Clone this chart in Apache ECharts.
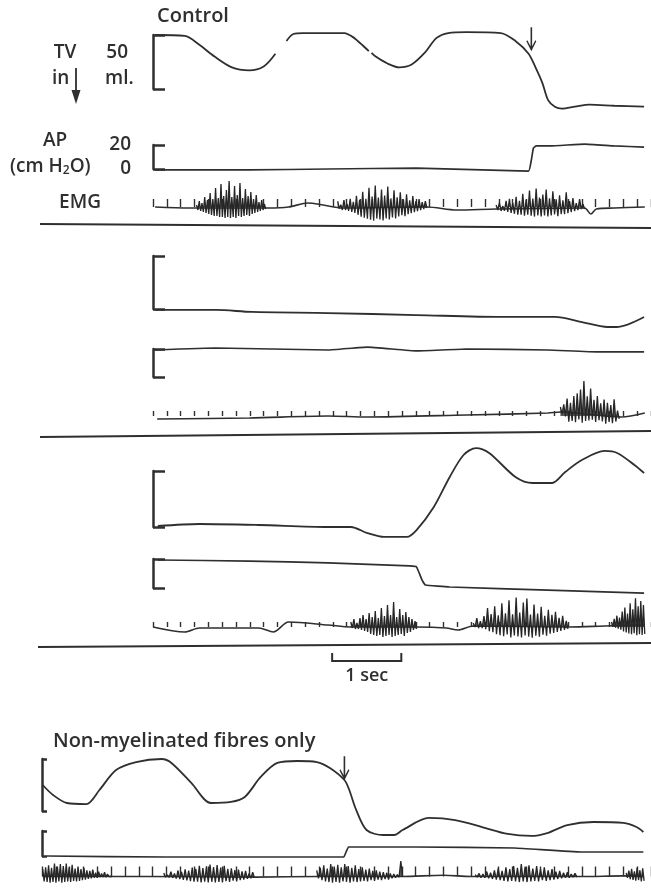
<!DOCTYPE html>
<html>
<head>
<meta charset="UTF-8">
<title>TV, AP and EMG traces</title>
<script src="https://cdn.jsdelivr.net/npm/echarts@6/dist/echarts.min.js"></script>
<style>
html, body { margin: 0; background: #fff; }
#main { width: 651px; height: 895px; }
</style>
</head>
<body>
<div id="main"></div>
<script>
var INK = '#2f2f2f';
var FONT = '"Open Sans", sans-serif';

// time in s from the start of each record
// TV in ml (0 = foot of the 50 ml bracket), '-' = pen lifted
var tv1 = [[0.03,50.0],[0.46,49.1],[0.67,40.9],[0.89,30.0],[1.14,20.0],[1.39,17.3],[1.60,20.9],[1.77,32.7],[1.85,'-'],
  [1.93,44.5],[2.03,50.9],[2.17,51.8],[2.77,51.8],[2.88,48.5],[2.96,44.5],[3.03,40.5],[3.08,37.5],[3.12,35.0],[3.14,'-'],
  [3.16,33.5],[3.22,30.0],[3.39,23.6],
  [3.56,20.0],[3.74,22.7],[3.93,33.6],[4.10,47.3],[4.27,51.8],[4.53,52.7],[5.03,51.8],[5.24,44.5],[5.43,32.7],
  [5.53,20.0],[5.63,5.5],[5.71,-10.0],[5.81,-16.4],[5.91,-18.2],[6.10,-16.4],[6.31,-14.5],[6.67,-15.5],[7.10,-16.4]];
var tv2 = [[0.03,-0.9],[0.91,-0.9],[1.43,-2.8],[2.53,-3.8],[3.81,-5.7],[5.06,-7.5],[5.81,-7.5],[6.20,-12.3],
  [6.57,-17.0],[6.70,-17.0],[7.10,-7.5]];
var tv3 = [[0.07,0.9],[0.67,2.7],[1.53,1.8],[2.53,0],[2.86,0],[3.10,-5.4],[3.34,-8.9],[3.67,-8.9],[3.81,-2.7],
  [4.06,17.9],[4.29,44.7],[4.49,64.3],[4.67,70.5],[4.86,66.1],[5.24,44.7],[5.49,39.3],[5.77,39.3],[5.96,49.1],
  [6.20,59.8],[6.53,67.9],[6.71,66.1],[6.96,55.4],[7.10,48.2]];
var tv4 = [[0.01,25.0],[0.16,15.4],[0.36,7.7],[0.64,6.7],[0.83,20.2],[1.07,39.4],[1.36,47.1],[1.73,50.0],
  [1.87,46.2],[2.16,26.9],[2.44,7.7],[2.73,8.7],[2.93,13.5],[3.16,32.7],[3.40,46.2],[3.69,48.1],[3.97,47.1],
  [4.16,41.4],[4.37,29.8],[4.44,20.2],[4.54,1.0],[4.69,-18.3],[4.93,-23.1],[5.09,-23.1],[5.21,-18.3],
  [5.59,-6.7],[5.97,-8.7],[6.36,-15.4],[6.73,-22.1],[7.07,-24.0],[7.30,-21.2],[7.59,-13.5],[7.97,-10.6],
  [8.40,-11.5],[8.59,-15.4],[8.69,-20.2]];

// airway pressure, cm H2O
var ap1 = [[0.03,-0.8],[1.39,-0.8],[2.53,0],[3.81,0.8],[5.43,-1.7],[5.47,7.5],[5.50,17.5],[5.54,19.2],
  [5.74,19.2],[6.24,20.8],[6.67,19.2],[7.10,18.3]];
var ap2 = [[0.03,19.3],[0.91,20.7],[2.53,19.3],[3.10,21.4],[3.81,18.6],[4.53,20.0],[5.71,19.3],[6.43,17.9],[7.10,17.9]];
var ap3 = [[0.07,19.3],[1.39,18.6],[2.53,17.3],[3.71,15.2],[3.81,14.5],[3.89,5.5],[3.94,2.1],[4.29,0.7],
  [5.71,-1.4],[7.10,-3.5]];
var ap4 = [[0.07,0],[1.79,-0.8],[4.11,-0.8],[4.36,-0.8],[4.43,7.2],[5.40,7.2],[6.83,6.4],[7.79,3.2],[8.69,3.2]];

// EMG baseline drift and bursts [start, end, spike heights]
var emgBase1 = [[0.03,0],[0.53,-1],[1.67,-1],[1.96,0],[2.24,4],[2.46,2],[2.74,-1],[3.96,0],[4.39,-3],
  [4.96,-2],[6.24,-1],[6.33,-7],[6.41,-2],[6.67,-1],[7.11,0]];
var emgBursts1 = [
  [0.63, 1.63, [3,-2,7,-3,5,-4,11,-5,8,-6,15,-7,9,-8,20,-8,10,-9,24,-9,12,-10,18,-9,27,-10,11,-9,22,-10,13,-8,25,-9,10,-8,19,-7,12,-8,16,-6,9,-5,13,-4,6,-3,8,-2,4,-1]],
  [2.67, 3.96, [6,-1,3,-2,8,-2,4,-3,9,-4,6,-5,12,-7,8,-9,16,-10,9,-11,20,-12,11,-13,22,-11,10,-12,18,-13,12,-11,21,-12,9,-10,17,-11,10,-9,15,-8,8,-9,13,-7,7,-6,11,-5,6,-4,8,-3,5,-2,6,-1]],
  [4.96, 6.24, [4,-1,6,-2,3,-2,8,-3,10,-4,6,-5,12,-6,8,-6,15,-7,9,-6,18,-7,10,-8,20,-7,11,-8,14,-7,19,-8,10,-7,17,-6,9,-8,13,-6,8,-6,16,-5,7,-4,10,-3,5,-2,9,-1,4,-1]]
];
var emgBase2 = [[0.06,-3],[1.39,-2],[2.53,0],[3.10,-1],[4.53,1],[5.71,3],[5.89,4],[6.77,-1],[7.11,3]];
var emgBursts2 = [
  [5.89, 6.74, [5,-2,8,-4,14,-9,10,-8,17,-9,20,-6,24,-9,33,-7,18,-6,26,-5,15,-7,19,-5,12,-6,16,-8,13,-6,11,-7,17,-5,6,-2]]
];
var emgBase3 = [[0.0,0],[0.46,-5],[0.67,-1],[1.53,-1],[1.74,-5],[1.96,5],[2.53,2],[2.86,0],[3.81,0],
  [4.24,-1],[4.41,-3],[4.63,1],[6.03,0],[6.53,1],[7.11,2]];
var emgBursts3 = [
  [2.86, 3.81, [5,-1,8,-2,4,-2,9,-3,12,-4,8,-5,14,-7,10,-8,16,-9,9,-8,19,-10,11,-9,22,-8,12,-10,25,-9,10,-8,18,-7,12,-9,15,-6,10,-5,8,-3,6,-2]],
  [4.63, 6.00, [3,-1,8,-2,5,-2,10,-3,18,-5,12,-6,20,-8,11,-9,23,-10,13,-8,26,-11,12,-9,29,-10,14,-11,24,-9,28,-10,12,-11,22,-9,13,-10,20,-8,11,-9,17,-7,12,-6,15,-5,9,-4,11,-3,6,-2]],
  [6.63, 7.11, [4,-1,7,-2,10,-3,8,-4,14,-6,18,-7,12,-8,22,-9,16,-8,27,-10,19,-9,24,-10,20,-9]]
];
var emgBase4 = [[0.01,0],[1.5,0],[3.1,-1],[4.0,0],[5.2,0],[5.8,2],[6.2,0],[7.8,0],[8.4,1],[8.7,0]];
var emgBursts4 = [
  [0.01, 1.01, [12,-8,15,-9,18,-10,14,-9,21,-10,16,-8,20,-10,17,-9,21,-8,15,-9,19,-7,13,-8,16,-7,12,-6,14,-5,10,-4,9,-3,11,-2,6,-2,8,-1,5,-1,7,-1,4,0,3,0]],
  [1.76, 3.07, [6,-1,3,-1,8,-2,5,-3,10,-4,8,-5,12,-6,10,-7,15,-8,13,-8,18,-9,14,-8,17,-9,20,-8,16,-9,19,-8,15,-9,18,-7,13,-8,14,-6,11,-7,12,-5,9,-4,10,-3,6,-2,8,-1]],
  [3.97, 5.21, [10,-3,14,-6,18,-8,13,-9,20,-10,16,-9,19,-10,15,-8,20,-9,17,-10,14,-8,18,-9,12,-8,15,-7,11,-8,13,-6,9,-7,10,-5,8,-6,7,-4,6,-5,5,-3,4,-2,3,-1,25,0]],
  [6.26, 7.73, [3,-1,5,-2,4,-2,8,-3,6,-4,10,-5,13,-6,9,-7,15,-8,12,-7,17,-8,14,-9,20,-8,16,-9,18,-8,13,-7,17,-8,12,-6,15,-7,10,-6,12,-5,8,-4,9,-3,6,-2,7,-2,4,-1,5,-1]],
  [8.44, 8.70, [5,-3,9,-5,12,-6,8,-7,14,-6,10,-8,13,-7]]
];

// stimulus arrows [time, TV level of arrow centre]
var arrows1 = [[5.47, 46]];
var arrows4 = [[4.37, 41]];

var AP_LABELS = { 0: '0', 20: '20' };
var SCALE_BAR = [2.59, 1]; // start (s), length (s)

var layout = [
  { left: 153, xmax: 7.2, tv: [35, 54], ap: [145, 24], emg: 207, br: 13, tick: 8 },
  { left: 153, xmax: 7.2, tv: [256, 53], ap: [349, 28], emg: 416, br: 13, tick: 5 },
  { left: 153, xmax: 7.2, tv: [471, 56], ap: [559, 29], emg: 627, br: 13, tick: 5 },
  { left: 42, xmax: 8.8, tv: [759, 52], ap: [831, 25], emg: 888, br: 6, tick: 10 }
];
var panelData = [
  { tv: tv1, ap: ap1, base: emgBase1, bursts: emgBursts1, arrows: arrows1 },
  { tv: tv2, ap: ap2, base: emgBase2, bursts: emgBursts2, arrows: [] },
  { tv: tv3, ap: ap3, base: emgBase3, bursts: emgBursts3, arrows: [] },
  { tv: tv4, ap: ap4, base: emgBase4, bursts: emgBursts4, arrows: arrows4 }
];
var PX_PER_S = 70;

function baseAt(base, t) {
  for (var i = 1; i < base.length; i++) {
    if (t <= base[i][0]) {
      var a = base[i - 1], b = base[i];
      return a[1] + (b[1] - a[1]) * (t - a[0]) / (b[0] - a[0]);
    }
  }
  return base[base.length - 1][1];
}

function burstData(bursts, base) {
  var out = [];
  bursts.forEach(function (b) {
    var step = (b[1] - b[0]) / (b[2].length - 1);
    b[2].forEach(function (a, i) {
      var t = b[0] + i * step;
      out.push([t, baseAt(base, t) + a]);
    });
    out.push([b[1] + 0.01, '-']);
  });
  return out;
}

var ARROW = 'path://M4.2,0 L5.8,0 L5.8,19 L9,13 L10,14 L5,24 L0,14 L1,13 L4.2,19 Z';
var lineBase = { type: 'line', symbol: 'none', showSymbol: false, clip: false, silent: true, animation: false };

var grids = [], xAxes = [], yAxes = [], series = [];

layout.forEach(function (L, p) {
  var D = panelData[p];
  var boxes = [L.tv, L.ap, [L.emg - 30, 60]];
  boxes.forEach(function (bx, r) {
    var gi = grids.length;
    grids.push({ left: L.left, top: bx[0], width: L.xmax * PX_PER_S, height: bx[1] });
    xAxes.push({
      type: 'value', gridIndex: gi, min: 0, max: L.xmax, interval: 0.2,
      show: r === 2,
      axisLine: { show: false, onZero: true },
      axisTick: { show: r === 2, inside: true, length: L.tick, lineStyle: { color: INK, width: 1.4 } },
      axisLabel: { show: false },
      splitLine: { show: false }
    });
    if (r === 2) {
      yAxes.push({ type: 'value', gridIndex: gi, min: -30, max: 30, show: false, splitLine: { show: false } });
    } else {
      var top = r === 0 ? 50 : 20;
      yAxes.push({
        type: 'value', gridIndex: gi, min: 0, max: top, interval: top,
        offset: L.br,
        axisLine: { show: true, lineStyle: { color: INK, width: 2.5 } },
        axisTick: { show: true, inside: true, length: L.br - 1, lineStyle: { color: INK, width: 2.5 } },
        axisLabel: {
          show: r === 1 && p === 0, margin: 9, color: INK,
          fontFamily: FONT, fontWeight: 600, fontSize: 19,
          formatter: function (v) { return AP_LABELS[v] || ''; }
        },
        splitLine: { show: false }
      });
    }
  });

  var g = p * 3;
  var tvSeries = Object.assign({}, lineBase, {
    xAxisIndex: g, yAxisIndex: g, data: D.tv, smooth: 0.3,
    lineStyle: { color: INK, width: 1.8 }
  });
  if (D.arrows.length) {
    tvSeries.markPoint = {
      symbol: ARROW, symbolSize: [10, 24], silent: true, animation: false,
      itemStyle: { color: INK }, label: { show: false },
      data: D.arrows.map(function (a) { return { coord: a }; })
    };
  }
  series.push(tvSeries);
  series.push(Object.assign({}, lineBase, {
    xAxisIndex: g + 1, yAxisIndex: g + 1, data: D.ap, smooth: 0.1,
    lineStyle: { color: INK, width: 1.7 }
  }));
  series.push(Object.assign({}, lineBase, {
    xAxisIndex: g + 2, yAxisIndex: g + 2, data: D.base, smooth: 0.3,
    lineStyle: { color: INK, width: 1.6 }
  }));
  series.push(Object.assign({}, lineBase, {
    xAxisIndex: g + 2, yAxisIndex: g + 2, data: burstData(D.bursts, D.base),
    lineStyle: { color: '#262626', width: 1.3 },
    areaStyle: { color: '#262626', opacity: 0.75, origin: 0 }
  }));
});

var chart = echarts.init(document.getElementById('main'), null, { renderer: 'canvas' });
chart.setOption({
  backgroundColor: '#fff',
  animation: false,
  grid: grids,
  xAxis: xAxes,
  yAxis: yAxes,
  series: series
});

function label(text, x, y, align, size) {
  return {
    type: 'text', silent: true,
    style: {
      text: text, x: x, y: y, align: align || 'left', verticalAlign: 'middle',
      fill: INK, fontFamily: FONT, fontWeight: 600, fontSize: size || 19,
      rich: { s: { fontSize: 12, fontFamily: FONT, fontWeight: 600, fill: INK, verticalAlign: 'bottom', lineHeight: 12 } }
    }
  };
}
function rule(x1, y1, x2, y2, w) {
  return { type: 'line', silent: true, shape: { x1: x1, y1: y1, x2: x2, y2: y2 }, style: { stroke: INK, lineWidth: w || 2 } };
}

var sx0 = chart.convertToPixel({ xAxisIndex: 8 }, SCALE_BAR[0]);
var sx1 = chart.convertToPixel({ xAxisIndex: 8 }, SCALE_BAR[0] + SCALE_BAR[1]);

chart.setOption({
  graphic: [
    label('Control', 157, 16, 'left', 20),
    label('TV', 65, 53, 'center'),
    label('50', 128, 53, 'right'),
    label('in', 52, 79, 'left'),
    label('ml.', 105, 79, 'left'),
    rule(76, 68, 76, 97, 1.8),
    { type: 'polygon', silent: true, shape: { points: [[71.5, 90], [80.5, 90], [76, 104]] }, style: { fill: INK } },
    label('AP', 55, 141, 'center'),
    label('(cm H{s|2}O)', 10, 167, 'left'),
    label('EMG', 80, 203, 'center'),
    rule(40, 224, 651, 228),
    rule(40, 437, 651, 431),
    rule(38, 647, 651, 643),
    { type: 'polyline', silent: true, shape: { points: [[sx0, 653], [sx0, 661], [sx1, 661], [sx1, 653]] }, style: { stroke: INK, lineWidth: 2, fill: null } },
    label('1 sec', (sx0 + sx1) / 2, 676, 'center', 18),
    label('Non-myelinated fibres only', 53, 741, 'left', 20)
  ]
});
</script>
</body>
</html>
